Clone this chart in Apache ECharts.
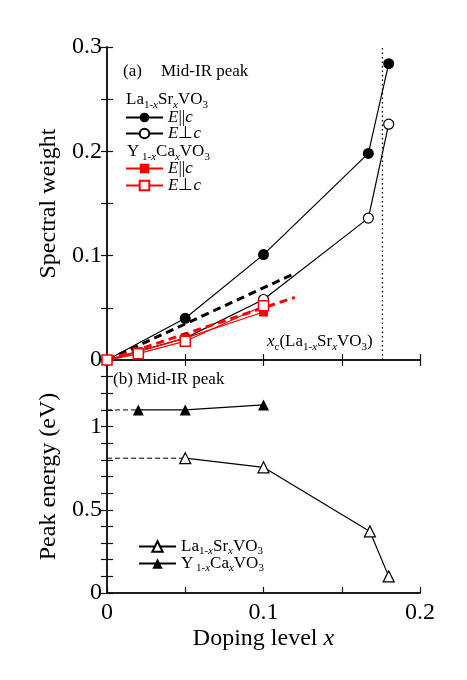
<!DOCTYPE html>
<html>
<head>
<meta charset="utf-8">
<script src="https://cdn.jsdelivr.net/npm/echarts@6/dist/echarts.min.js"></script>
<style>
  html, body { margin: 0; padding: 0; background: #fff; }
  #main { width: 467px; height: 680px; }
</style>
</head>
<body>
<div id="main"></div>
<script>
  // (a) spectral weight
  var laParX = [0, 0.05, 0.1, 0.167, 0.18]
  var laParY = [0, 0.040, 0.101, 0.198, 0.284]
  var laPerpX = [0, 0.05, 0.1, 0.167, 0.18]
  var laPerpY = [0, 0.021, 0.058, 0.136, 0.226]
  var yParX = [0, 0.02, 0.05, 0.1]
  var yParY = [0, 0.008, 0.021, 0.046]
  var yPerpX = [0, 0.02, 0.05, 0.1]
  var yPerpY = [0, 0.006, 0.018, 0.052]
  var laFitX = [0, 0.12]
  var laFitY = [0, 0.083]
  var yFitX = [0, 0.12]
  var yFitY = [0, 0.060]
  var xcLa = 0.176
  // (b) peak energy
  var laPeakX = [0.05, 0.1, 0.168, 0.18]
  var laPeakY = [0.81, 0.755, 0.37, 0.1]
  var yPeakX = [0.02, 0.05, 0.1]
  var yPeakY = [1.1, 1.1, 1.13]

  var serif = 'Liberation Serif'

  function pts(xs, ys) {
    return xs.map(function (x, i) { return [x, ys[i]] })
  }

  // rich styles for formulas, subscripts pushed down with top padding
  function richStyles(lh) {
    return {
      n: { fontSize: 17, fontFamily: serif, lineHeight: lh, color: '#000' },
      i: { fontSize: 17, fontFamily: serif, fontStyle: 'italic', lineHeight: lh, color: '#000' },
      s: { fontSize: 11, fontFamily: serif, lineHeight: lh, padding: [10, 0, 0, 0], color: '#000' },
      si: { fontSize: 11, fontFamily: serif, fontStyle: 'italic', lineHeight: lh, padding: [10, 0, 0, 0], color: '#000' }
    }
  }
  var rich = richStyles(20)
  var legendRich = richStyles(15)
  var laName = '{n|La}{s|1-}{si|x}{n|Sr}{si|x}{n|VO}{s|3}'
  var yName = '{n|Y}{s| 1-}{si|x}{n|Ca}{si|x}{n|VO}{s|3}'

  function polLabel(name) {
    return name.indexOf('par') > -1 ? '{i|E}{n|||}{i|c}' : '{i|E}{n|⊥}{i|c}'
  }

  function tickLabel(step, labels) {
    return function (v) {
      var k = Math.round(v / step)
      return labels[k] !== undefined ? labels[k] : ''
    }
  }

  var axisLine = { lineStyle: { color: '#111', width: 1.5 } }
  var tick = { inside: true, length: 6, lineStyle: { color: '#111', width: 1.2 } }
  var labelFont = { fontFamily: serif, fontSize: 24, color: '#000' }

  var myChart = echarts.init(document.getElementById('main'))
  myChart.setOption({
    animation: false,
    backgroundColor: '#fff',
    grid: [
      { left: 107, top: 47, width: 313, height: 313 },
      { left: 107, top: 360, width: 313, height: 233 }
    ],
    xAxis: [
      {
        type: 'value', gridIndex: 0, min: 0, max: 0.2, interval: 0.05,
        axisLine: axisLine, axisTick: tick, axisLabel: { show: false }, splitLine: { show: false }
      },
      {
        type: 'value', gridIndex: 0, position: 'top', min: 0, max: 0.2, interval: 0.05,
        axisLine: axisLine, axisTick: tick, axisLabel: { show: false }, splitLine: { show: false }
      },
      {
        type: 'value', gridIndex: 1, min: 0, max: 0.2, interval: 0.05,
        axisLine: axisLine, axisTick: tick, splitLine: { show: false },
        axisLabel: Object.assign({ margin: 8, formatter: tickLabel(0.05, { 0: '0', 2: '0.1', 4: '0.2' }) }, labelFont),
        name: 'Doping level {i|x}', nameLocation: 'middle', nameGap: 33,
        nameTextStyle: {
          fontFamily: serif, fontSize: 24, color: '#000', lineHeight: 26,
          rich: { i: { fontFamily: serif, fontSize: 24, fontStyle: 'italic', color: '#000', lineHeight: 26 } }
        }
      },
      {
        type: 'value', gridIndex: 1, position: 'top', min: 0, max: 0.2, interval: 0.05,
        axisLine: axisLine, axisTick: { show: false }, axisLabel: { show: false }, splitLine: { show: false }
      }
    ],
    yAxis: [
      {
        type: 'value', gridIndex: 0, min: 0, max: 0.3, interval: 0.05,
        axisLine: axisLine, axisTick: tick, splitLine: { show: false },
        axisLabel: Object.assign({ margin: 5, formatter: tickLabel(0.05, { 0: '0', 2: '0.1', 4: '0.2', 6: '0.3' }) }, labelFont),
        name: 'Spectral weight', nameLocation: 'middle', nameGap: 43,
        nameTextStyle: { fontFamily: serif, fontSize: 24, color: '#000' }
      },
      {
        type: 'value', gridIndex: 0, position: 'right', min: 0, max: 0.3, interval: 0.05,
        axisLine: axisLine, axisTick: tick, axisLabel: { show: false }, splitLine: { show: false }
      },
      {
        type: 'value', gridIndex: 1, min: 0, max: 1.4, interval: 0.1,
        axisLine: axisLine, axisTick: tick, splitLine: { show: false },
        axisLabel: Object.assign({ margin: 5, formatter: tickLabel(0.1, { 0: '0', 5: '0.5', 10: '1' }) }, labelFont),
        name: 'Peak energy (eV)', nameLocation: 'middle', nameGap: 43,
        nameTextStyle: { fontFamily: serif, fontSize: 24, color: '#000' }
      },
      {
        type: 'value', gridIndex: 1, position: 'right', min: 0, max: 1.4, interval: 0.1,
        axisLine: axisLine, axisTick: tick, axisLabel: { show: false }, splitLine: { show: false }
      }
    ],
    legend: [
      {
        data: ['La par', 'La perp'], orient: 'vertical', left: 125, top: 109, padding: 0,
        itemWidth: 37, itemHeight: 12, itemGap: -1,
        formatter: polLabel, textStyle: { rich: legendRich, lineHeight: 15 }
      },
      {
        data: ['Y par', 'Y perp'], orient: 'vertical', left: 125, top: 160, padding: 0,
        itemWidth: 37, itemHeight: 12, itemGap: 0,
        formatter: polLabel, textStyle: { rich: legendRich, lineHeight: 15 }
      },
      {
        data: ['La peak', 'Y peak'], orient: 'vertical', left: 138, top: 536, padding: 0,
        itemWidth: 37, itemHeight: 13, itemGap: -4,
        formatter: function (name) { return name === 'La peak' ? laName : yName },
        textStyle: { rich: legendRich, lineHeight: 15 }
      }
    ],
    graphic: [
      { type: 'text', x: 123, y: 72, style: { text: '(a)', font: '17px "Liberation Serif"', fill: '#000', verticalAlign: 'middle' } },
      { type: 'text', x: 161, y: 72, style: { text: 'Mid-IR peak', font: '17px "Liberation Serif"', fill: '#000', verticalAlign: 'middle' } },
      { type: 'text', x: 126, y: 100, style: { text: laName, rich: rich, verticalAlign: 'middle' } },
      { type: 'text', x: 127, y: 152, style: { text: yName, rich: rich, verticalAlign: 'middle' } },
      { type: 'text', x: 267, y: 342, style: { text: '{i|x}{s|c}' + '{n|(}' + laName + '{n|)}', rich: rich, verticalAlign: 'middle' } },
      { type: 'text', x: 113, y: 380, style: { text: '(b) Mid-IR peak', font: '17px "Liberation Serif"', fill: '#000', verticalAlign: 'middle' } }
    ],
    series: [
      {
        name: 'xc', type: 'line', xAxisIndex: 0, yAxisIndex: 0, symbol: 'none',
        data: [[xcLa, 0], [xcLa, 0.3]],
        lineStyle: { color: '#000', width: 1.3, type: [1.5, 3] }
      },
      {
        name: 'La par', type: 'line', xAxisIndex: 0, yAxisIndex: 0, clip: false,
        data: pts(laParX, laParY), symbol: 'circle', symbolSize: 11,
        itemStyle: { color: '#000' }, lineStyle: { color: '#000', width: 1.2 }
      },
      {
        name: 'La perp', type: 'line', xAxisIndex: 0, yAxisIndex: 0, clip: false,
        data: pts(laPerpX, laPerpY), symbol: 'circle', symbolSize: 10,
        itemStyle: { color: '#fff', borderColor: '#000', borderWidth: 1.2 },
        lineStyle: { color: '#000', width: 1.2 }
      },
      {
        name: 'Y par', type: 'line', xAxisIndex: 0, yAxisIndex: 0, clip: false,
        data: pts(yParX, yParY), symbol: 'rect', symbolSize: 9,
        itemStyle: { color: '#f00' }, lineStyle: { color: '#f00', width: 1.3 }
      },
      {
        name: 'Y perp', type: 'line', xAxisIndex: 0, yAxisIndex: 0, clip: false,
        data: pts(yPerpX, yPerpY), symbol: 'rect', symbolSize: 10,
        itemStyle: { color: '#fff', borderColor: '#f00', borderWidth: 1.5 },
        lineStyle: { color: '#f00', width: 1.3 }
      },
      {
        name: 'La fit', type: 'line', xAxisIndex: 0, yAxisIndex: 0, symbol: 'none',
        data: pts(laFitX, laFitY), lineStyle: { color: '#000', width: 3, type: [8, 5] }
      },
      {
        name: 'Y fit', type: 'line', xAxisIndex: 0, yAxisIndex: 0, symbol: 'none',
        data: pts(yFitX, yFitY), lineStyle: { color: '#f00', width: 3, type: [8, 5] }
      },
      {
        name: 'La guide', type: 'line', xAxisIndex: 2, yAxisIndex: 2, symbol: 'none',
        data: [[0, laPeakY[0]], [laPeakX[0], laPeakY[0]]],
        lineStyle: { color: '#000', width: 1, type: [5, 3] }
      },
      {
        name: 'Y guide', type: 'line', xAxisIndex: 2, yAxisIndex: 2, symbol: 'none',
        data: [[0, yPeakY[0]], [yPeakX[0], yPeakY[0]]],
        lineStyle: { color: '#000', width: 1, type: [5, 3] }
      },
      {
        name: 'La peak', type: 'line', xAxisIndex: 2, yAxisIndex: 2, clip: false,
        data: pts(laPeakX, laPeakY), symbol: 'triangle', symbolSize: 11,
        itemStyle: { color: '#fff', borderColor: '#000', borderWidth: 1.2 },
        lineStyle: { color: '#000', width: 1.2 }
      },
      {
        name: 'Y peak', type: 'line', xAxisIndex: 2, yAxisIndex: 2, clip: false,
        data: pts(yPeakX, yPeakY), symbol: 'triangle', symbolSize: 11,
        itemStyle: { color: '#000' }, lineStyle: { color: '#000', width: 1.2 }
      }
    ]
  })
</script>
</body>
</html>
